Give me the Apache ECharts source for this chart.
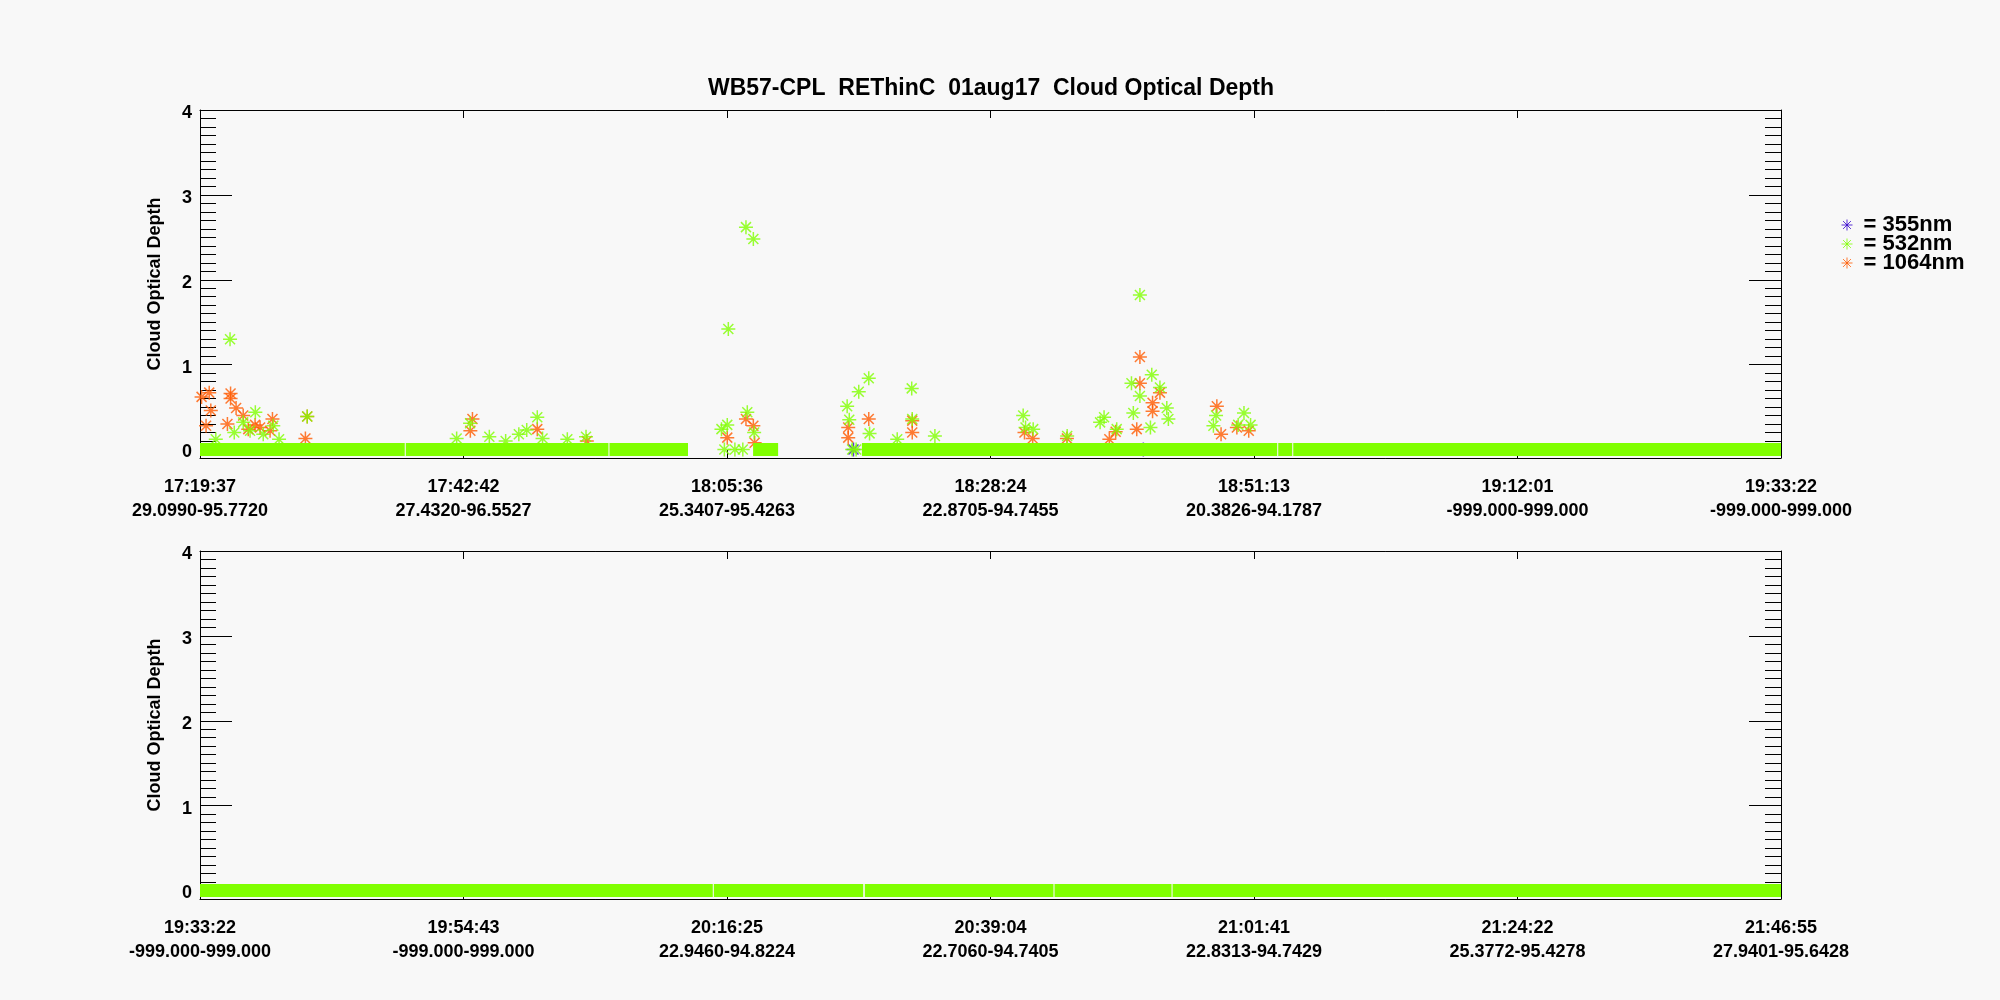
<!DOCTYPE html>
<html>
<head>
<meta charset="utf-8">
<title>WB57-CPL REThinC 01aug17 Cloud Optical Depth</title>
<script src="https://cdn.jsdelivr.net/npm/echarts@6/dist/echarts.min.js"></script>
<style>
  html, body { margin: 0; padding: 0; background: #f8f8f8; }
  #main { width: 2000px; height: 1000px; }
</style>
</head>
<body>
<div id="main"></div>
<script>
// x axis is profile index, labelled every 1000 profiles with time and lat/lon
const xMax = 6000;
const xStep = 1000;
const topTimes = ['17:19:37', '17:42:42', '18:05:36', '18:28:24', '18:51:13', '19:12:01', '19:33:22'];
const topCoords = ['29.0990-95.7720', '27.4320-96.5527', '25.3407-95.4263', '22.8705-94.7455',
  '20.3826-94.1787', '-999.000-999.000', '-999.000-999.000'];
const bottomTimes = ['19:33:22', '19:54:43', '20:16:25', '20:39:04', '21:01:41', '21:24:22', '21:46:55'];
const bottomCoords = ['-999.000-999.000', '-999.000-999.000', '22.9460-94.8224', '22.7060-94.7405',
  '22.8313-94.7429', '25.3772-95.4278', '27.9401-95.6428'];
const yMajorTicks = [0, 1, 2, 3, 4];

// [profile, optical depth]
const top355 = [[2480, 0.0], [3580, 0.0]];
const top532 = [
  [60, 0.12], [114, 1.30], [130, 0.20], [164, 0.32], [190, 0.22], [210, 0.44], [240, 0.18],
  [278, 0.28], [300, 0.12], [407, 0.39], [974, 0.13], [1025, 0.31], [1098, 0.15], [1160, 0.10],
  [1210, 0.18], [1240, 0.23], [1280, 0.38], [1300, 0.13], [1394, 0.12], [1465, 0.15],
  [1979, 0.24], [1990, 0.0], [2001, 0.29], [2005, 1.42], [2030, 0.0], [2060, 0.0], [2072, 2.62],
  [2077, 0.44], [2100, 2.48], [2103, 0.20], [2456, 0.51], [2464, 0.35], [2475, 0.0], [2490, 0.0],
  [2500, 0.68], [2538, 0.84], [2541, 0.19], [2646, 0.12], [2701, 0.72], [2703, 0.36],
  [2789, 0.16], [3124, 0.40], [3133, 0.26], [3162, 0.24], [3291, 0.16], [3416, 0.32],
  [3431, 0.38], [3479, 0.24], [3535, 0.78], [3542, 0.43], [3567, 1.82], [3567, 0.63],
  [3607, 0.26], [3612, 0.88], [3643, 0.73], [3669, 0.49], [3675, 0.36], [3846, 0.28],
  [3856, 0.40], [3940, 0.29], [3962, 0.43], [3987, 0.29]
];
const top1064 = [
  [6, 0.62], [23, 0.28], [35, 0.67], [41, 0.46], [104, 0.30], [116, 0.66], [116, 0.60],
  [137, 0.49], [164, 0.40], [183, 0.24], [209, 0.29], [228, 0.26], [266, 0.22], [275, 0.36],
  [400, 0.13], [407, 0.39], [1026, 0.22], [1034, 0.36], [1280, 0.24], [1468, 0.10],
  [2001, 0.14], [2072, 0.36], [2100, 0.28], [2105, 0.08], [2460, 0.14], [2460, 0.26],
  [2538, 0.36], [2703, 0.34], [2703, 0.20], [3129, 0.20], [3160, 0.13], [3290, 0.13],
  [3451, 0.12], [3475, 0.21], [3555, 0.24], [3567, 1.09], [3567, 0.78], [3615, 0.55],
  [3615, 0.45], [3643, 0.67], [3859, 0.51], [3875, 0.18], [3935, 0.26], [3980, 0.22]
];
// runs of consecutive profiles with optical depth ~0 (they merge into a solid band)
const top532Runs = [[0, 777], [781, 1550], [1554, 1852], [2099, 2194], [2512, 4088], [4092, 4145], [4149, 6000]];
const bottom532Runs = [[0, 1946], [1950, 2517], [2523, 3239], [3243, 3687], [3691, 6000]];

const GREEN = '#80ff00';
const ORANGE = '#ff5a00';
const BLUE = '#3300cc';
const FONT = 'Liberation Sans';
const STAR = 'path://M0,7L14,7M7,0L7,14M2,2L12,12M2,12L12,2';

function runData(runs) {
  const out = [];
  runs.forEach(function (r) {
    out.push([r[0], 0], [r[1], 0], [r[1], '-']);
  });
  return out;
}

const frameLine = { show: true, onZero: false, lineStyle: { color: '#000', width: 1 } };

function xAxes(gridIndex, times, coords) {
  return [
    {
      type: 'value', gridIndex: gridIndex, position: 'bottom', min: 0, max: xMax, interval: xStep,
      axisLine: frameLine,
      axisTick: { inside: true, length: 8, lineStyle: { color: '#000' } },
      splitLine: { show: false },
      axisLabel: {
        margin: 17, color: '#000', fontFamily: FONT, fontWeight: 'bold', fontSize: 18, lineHeight: 24,
        showMinLabel: true, showMaxLabel: true,
        formatter: function (v) {
          const i = Math.round(v / xStep);
          return times[i] + '\n' + coords[i];
        }
      }
    },
    {
      type: 'value', gridIndex: gridIndex, position: 'top', min: 0, max: xMax, interval: xStep,
      axisLine: frameLine,
      axisTick: { inside: true, length: 8, lineStyle: { color: '#000' } },
      splitLine: { show: false },
      axisLabel: { show: false }
    }
  ];
}

function minorYAxes(gridIndex) {
  return ['left', 'right'].map(function (pos) {
    return {
      type: 'value', gridIndex: gridIndex, position: pos, min: -0.1, max: 4, interval: 0.1,
      axisLine: frameLine,
      axisTick: { inside: true, length: 16, lineStyle: { color: '#000' } },
      splitLine: { show: false },
      name: pos === 'left' ? 'Cloud Optical Depth' : '',
      nameLocation: 'middle',
      nameGap: 36,
      nameTextStyle: { color: '#000', fontFamily: FONT, fontWeight: 'bold', fontSize: 18 },
      axisLabel: {
        show: pos === 'left', margin: 8, color: '#000', fontFamily: FONT, fontWeight: 'bold', fontSize: 18,
        formatter: function (v) {
          const r = Math.round(v);
          return (Math.abs(v - r) < 1e-6 && r >= 0) ? '{d|' + r + '}' : '';
        },
        rich: { d: { fontFamily: FONT, fontWeight: 'bold', fontSize: 18, color: '#000', padding: [6, 0, 0, 0] } }
      }
    };
  });
}

function majorYAxes(gridIndex) {
  return ['left', 'right'].map(function (pos) {
    return {
      type: 'value', gridIndex: gridIndex, position: pos, min: -0.1, max: 4,
      axisLine: { show: false, onZero: false },
      axisTick: { show: true, inside: true, length: 32, customValues: yMajorTicks, lineStyle: { color: '#000' } },
      splitLine: { show: false },
      axisLabel: { show: false, customValues: yMajorTicks }
    };
  });
}

function starSeries(name, data, color, z) {
  return {
    name: name, type: 'scatter', xAxisIndex: 0, yAxisIndex: 0, data: data, z: z,
    symbol: STAR, symbolSize: 14,
    itemStyle: { color: color, borderColor: color, borderWidth: 1.5 },
    emphasis: { disabled: true }
  };
}

function bandSeries(name, runs, xi, yi) {
  return {
    name: name, type: 'line', xAxisIndex: xi, yAxisIndex: yi, data: runData(runs), z: 3,
    showSymbol: false, connectNulls: false, silent: true,
    lineStyle: { color: GREEN, width: 13, cap: 'butt' }
  };
}

const grids = [
  { left: 200, right: 219, top: 110, height: 348 },
  { left: 200, right: 219, top: 551, height: 348 },
  { left: 200, right: 219, top: 110, height: 348 },
  { left: 200, right: 219, top: 551, height: 348 }
];

const myChart = echarts.init(document.getElementById('main'));
const option = {
  backgroundColor: '#f8f8f8',
  animation: false,
  title: {
    text: 'WB57-CPL  REThinC  01aug17  Cloud Optical Depth',
    left: 986, top: 72, textAlign: 'center',
    textStyle: { color: '#000', fontFamily: FONT, fontWeight: 'bold', fontSize: 23 }
  },
  legend: {
    orient: 'vertical', left: 1836, top: 209, itemGap: -3, itemWidth: 11, itemHeight: 11,
    formatter: ' = {name}',
    textStyle: { color: '#000', fontFamily: FONT, fontWeight: 'bold', fontSize: 22 },
    data: [
      { name: '355nm', icon: STAR, itemStyle: { color: BLUE, borderColor: BLUE, borderWidth: 1 } },
      { name: '532nm', icon: STAR, itemStyle: { color: GREEN, borderColor: GREEN, borderWidth: 1 } },
      { name: '1064nm', icon: STAR, itemStyle: { color: ORANGE, borderColor: ORANGE, borderWidth: 1 } }
    ]
  },
  grid: grids,
  xAxis: xAxes(0, topTimes, topCoords).concat(xAxes(1, bottomTimes, bottomCoords)).concat([
    { type: 'value', gridIndex: 2, min: 0, max: xMax, show: false },
    { type: 'value', gridIndex: 3, min: 0, max: xMax, show: false }
  ]),
  yAxis: minorYAxes(0).concat(minorYAxes(1)).concat(majorYAxes(2)).concat(majorYAxes(3)),
  series: [
    starSeries('1064nm', top1064, ORANGE, 2),
    bandSeries('532nm band', top532Runs, 0, 0),
    starSeries('532nm', top532, GREEN, 4),
    starSeries('355nm', top355, BLUE, 1),
    bandSeries('532nm band bottom', bottom532Runs, 2, 2)
  ]
};
myChart.setOption(option);
</script>
</body>
</html>
